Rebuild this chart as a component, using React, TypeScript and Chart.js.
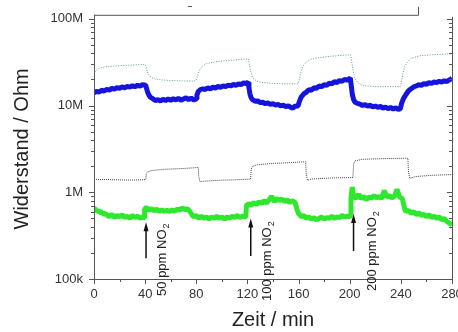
import React, { useEffect, useRef } from "react";
import { Chart, registerables } from "chart.js";

Chart.register(...registerables);

// ---------- data (resistance in MOhm, time in min) ----------
const tealTime = [0, 1, 3, 6, 10, 20, 30, 40, 40.8, 41.5, 43, 45, 48, 52, 60, 70, 79.6, 80.4, 81.5, 83, 85, 88, 95, 105, 115, 120.6, 121.3, 122.5, 124, 127, 131, 140, 150, 159.6, 160.4, 161.5, 163, 165, 168, 175, 185, 195, 200.6, 201.3, 202.5, 204, 207, 211, 220, 230, 239.6, 240.4, 241.5, 243, 245, 248, 255, 265, 280];
const tealMOhm = [23, 25, 26.5, 27.5, 28, 28.8, 29.3, 29.8, 28, 25, 22.5, 21, 20.2, 19.8, 19.4, 19.2, 19.2, 20.5, 23.5, 26.5, 28.5, 30.5, 32, 33, 34, 34.7, 31, 25, 21, 19.2, 18.5, 18, 17.8, 17.8, 19.5, 23, 27.5, 30.5, 33.5, 35.5, 37, 38, 38.5, 34, 26, 20.5, 18, 17, 16.5, 16.5, 16.6, 18.5, 23, 28, 31.5, 35, 37.5, 38.5, 39.6];

const blueTime = [0, 2, 4, 6, 8, 10, 12, 14, 16, 18, 20, 22, 24, 26, 28, 30, 32, 34, 36, 38, 40.4, 41, 42, 43, 44, 46, 48, 50, 52, 54, 56, 58, 60, 62, 64, 66, 68, 70, 72, 74, 76, 78, 79.8, 80.5, 81.5, 83, 85, 87, 89, 91, 93, 95, 97, 99, 101, 103, 105, 107, 109, 111, 113, 115, 117, 119, 120.6, 121.2, 122, 123, 124, 126, 128, 130, 132, 134, 136, 138, 140, 142, 144, 146, 148, 150, 152, 154, 155.5, 157, 159.5, 160.5, 162, 164, 166, 168, 170, 172, 174, 176, 178, 180, 182, 184, 186, 188, 190, 192, 194, 196, 198, 200.5, 201.2, 202, 203, 204, 206, 208, 210, 212, 214, 216, 218, 220, 222, 224, 226, 228, 230, 232, 234, 236, 238, 239.6, 240.5, 242, 244, 246, 248, 250, 252, 254, 256, 258, 260, 262, 264, 266, 268, 270, 272, 274, 276, 278, 280];
const blueMOhm = [14.0, 14.6, 14.3, 15.0, 14.7, 15.4, 15.0, 15.8, 15.4, 16.1, 15.8, 16.4, 16.0, 16.6, 16.3, 16.9, 16.5, 17.1, 16.7, 17.4, 17.2, 16, 14.2, 13.2, 12.5, 12.0, 11.4, 11.7, 11.3, 11.8, 11.4, 11.9, 11.5, 12.0, 11.6, 12.1, 11.5, 11.9, 12.3, 11.7, 12.2, 11.6, 11.9, 13.2, 14.5, 15.2, 15.6, 15.3, 16.0, 15.6, 16.3, 15.9, 16.6, 16.2, 16.9, 16.5, 17.2, 16.8, 17.5, 17.1, 17.8, 17.4, 18.3, 17.9, 18.6, 16, 13.5, 12.2, 11.7, 11.2, 11.3, 10.8, 10.9, 10.5, 10.7, 10.3, 10.5, 10.1, 10.3, 9.9, 10.1, 9.7, 9.9, 9.5, 9.3, 9.8, 9.9, 11, 12.5, 13.6, 14.2, 15.2, 15.0, 16.0, 15.8, 16.8, 16.5, 17.4, 17.1, 18.1, 17.8, 18.8, 18.4, 19.4, 19.0, 20.0, 19.6, 20.8, 17, 13.5, 11.8, 11.0, 10.6, 10.4, 10.0, 10.3, 9.8, 10.1, 9.6, 9.9, 9.5, 9.8, 9.3, 9.6, 9.2, 9.5, 9.1, 9.4, 9.0, 9.2, 10.5, 12, 13.4, 14.8, 15.6, 16.4, 16.8, 17.4, 17.1, 17.9, 17.6, 18.3, 18.0, 18.7, 18.4, 19.0, 18.6, 19.3, 18.9, 19.8, 20.6];

const grayTime = [0, 10, 20, 30, 40.5, 41, 42, 45, 55, 70, 81.5, 82, 83, 86, 100, 110, 122.5, 123, 124, 128, 140, 155, 165.5, 166, 167, 170, 185, 202.5, 203, 204, 210, 230, 245.5, 246, 247, 252, 265, 280];
const grayMOhm = [1.41, 1.40, 1.39, 1.38, 1.40, 1.65, 1.72, 1.78, 1.84, 1.88, 1.93, 1.5, 1.32, 1.34, 1.38, 1.39, 1.42, 1.85, 2.0, 2.08, 2.15, 2.2, 2.25, 1.6, 1.37, 1.42, 1.46, 1.48, 2.1, 2.3, 2.4, 2.45, 2.47, 1.7, 1.45, 1.52, 1.57, 1.6];

const greenTime = [0, 1, 2, 3, 4, 5, 6, 7, 8, 9, 10, 12, 14, 16, 18, 20, 22, 24, 26, 28, 30, 32, 34, 36, 38, 39.4, 39.6, 41, 43, 45, 47, 49, 51, 53, 55, 57, 59, 61, 63, 65, 67, 69, 71, 73, 75, 76, 77, 78, 80, 82, 84, 86, 88, 90, 92, 94, 96, 98, 100, 102, 104, 106, 108, 110, 112, 114, 116, 118, 118.8, 119.2, 121, 123, 125, 127, 129, 131, 133, 135, 137, 139, 141, 143, 145, 147, 149, 151, 153, 155, 157, 158, 159, 160, 161, 162, 164, 166, 168, 170, 172, 174, 176, 178, 180, 182, 184, 186, 188, 190, 192, 194, 196, 198, 200, 200.6, 201, 202, 203, 205, 207, 209, 211, 213, 215, 217, 219, 221, 223, 225, 227, 229, 231, 233, 235, 237, 239, 241, 242, 243, 244, 246, 248, 250, 252, 254, 256, 258, 260, 262, 264, 266, 268, 270, 272, 274, 276, 278, 280];
const greenMOhm = [0.66, 0.64, 0.6, 0.63, 0.58, 0.62, 0.56, 0.6, 0.54, 0.57, 0.55, 0.52, 0.56, 0.51, 0.54, 0.52, 0.55, 0.51, 0.53, 0.5, 0.54, 0.51, 0.53, 0.5, 0.52, 0.51, 0.64, 0.67, 0.62, 0.65, 0.61, 0.64, 0.6, 0.63, 0.6, 0.62, 0.6, 0.63, 0.6, 0.64, 0.62, 0.66, 0.63, 0.65, 0.6, 0.57, 0.54, 0.52, 0.54, 0.5, 0.53, 0.5, 0.52, 0.49, 0.52, 0.5, 0.53, 0.5, 0.52, 0.49, 0.52, 0.5, 0.53, 0.51, 0.54, 0.51, 0.53, 0.52, 0.53, 0.7, 0.74, 0.71, 0.76, 0.72, 0.78, 0.74, 0.8, 0.75, 0.82, 0.9, 0.78, 0.85, 0.8, 0.84, 0.78, 0.82, 0.76, 0.8, 0.77, 0.7, 0.62, 0.57, 0.55, 0.52, 0.54, 0.5, 0.52, 0.49, 0.51, 0.48, 0.5, 0.52, 0.49, 0.51, 0.5, 0.53, 0.5, 0.52, 0.51, 0.54, 0.52, 0.53, 0.52, 0.55, 0.85, 1.15, 0.9, 0.85, 0.95, 0.84, 0.9, 0.82, 0.88, 0.85, 0.92, 0.86, 0.9, 0.84, 1.05, 0.88, 0.92, 0.86, 0.9, 1.08, 0.88, 0.85, 0.75, 0.64, 0.6, 0.62, 0.57, 0.6, 0.55, 0.58, 0.54, 0.56, 0.52, 0.55, 0.51, 0.53, 0.5, 0.52, 0.48, 0.5, 0.46, 0.44, 0.42];

const xTickValues = [0, 40, 80, 120, 160, 200, 240, 280];
const yTickValues = [0.1, 1, 10, 100];
const yTickLabels = ["100k", "1M", "10M", "100M"];

const arrowTimes = [40.7, 122.6, 203];
const arrowBase = [0.174, 0.184, 0.21];
const arrowTip = [0.45, 0.5, 0.56];
const annotationLabels = ["50 ppm NO", "100 ppm NO", "200 ppm NO"];
const labelTimes = [53.2, 136, 218];
const labelStart = [0.0638, 0.0558, 0.0728];

const FONT = "'Liberation Sans', Arial, sans-serif";

const toPts = (t: number[], v: number[]) => t.map((x, i) => ({ x, y: v[i] }));

const framePlugin = {
  id: "frame",
  afterDatasetsDraw(chart: any) {
    const { ctx, chartArea } = chart;
    const xs = chart.scales.x;
    const ys = chart.scales.y;
    const { left, right, top, bottom } = chartArea;
    ctx.save();
    ctx.strokeStyle = "#555";
    ctx.lineWidth = 1;
    ctx.beginPath();
    ctx.moveTo(left + 0.5, top - 4);
    ctx.lineTo(left + 0.5, bottom + 0.5);
    ctx.lineTo(right + 0.5, bottom + 0.5);
    ctx.moveTo(right + 0.5, bottom + 0.5);
    ctx.lineTo(right + 0.5, top - 2);
    ctx.moveTo(left, top - 3.5);
    ctx.lineTo(418.5, top - 3.5);
    ctx.lineTo(418.5, top - 12);
    ctx.moveTo(188, 6.5);
    ctx.lineTo(192, 6.5);
    for (let v = 0; v <= 280; v += 20) {
      const px = Math.round(xs.getPixelForValue(v)) + 0.5;
      const len = v % 40 === 0 ? 5 : 3;
      ctx.moveTo(px, bottom);
      ctx.lineTo(px, bottom + len);
    }
    for (let d = 0.1; d < 100; d *= 10) {
      for (let m = 1; m <= 10; m++) {
        const val = d * m;
        const py = Math.round(ys.getPixelForValue(val)) + 0.5;
        const len = m === 1 || m === 10 ? 5 : 3;
        ctx.moveTo(left, py);
        ctx.lineTo(left - len, py);
        ctx.moveTo(right, py);
        ctx.lineTo(right - len, py);
      }
    }
    ctx.stroke();

    ctx.strokeStyle = "#111";
    ctx.fillStyle = "#111";
    ctx.lineWidth = 1.5;
    arrowTimes.forEach((t, i) => {
      const px = xs.getPixelForValue(t);
      const yb = ys.getPixelForValue(arrowBase[i]);
      const yt = ys.getPixelForValue(arrowTip[i]);
      ctx.beginPath();
      ctx.moveTo(px, yb);
      ctx.lineTo(px, yt + 6);
      ctx.stroke();
      ctx.beginPath();
      ctx.moveTo(px, yt);
      ctx.lineTo(px - 2.5, yt + 9);
      ctx.lineTo(px + 2.5, yt + 9);
      ctx.closePath();
      ctx.fill();

      const lx = xs.getPixelForValue(labelTimes[i]);
      const ly = ys.getPixelForValue(labelStart[i]);
      ctx.save();
      ctx.translate(lx, ly);
      ctx.rotate(-Math.PI / 2);
      ctx.font = `13px ${FONT}`;
      ctx.textAlign = "left";
      ctx.textBaseline = "middle";
      ctx.fillStyle = "#222";
      ctx.fillText(annotationLabels[i], 0, 0);
      const w = ctx.measureText(annotationLabels[i]).width;
      ctx.font = `9px ${FONT}`;
      ctx.fillText("2", w + 1, 4);
      ctx.restore();
    });
    ctx.restore();
  },
};

export default function App() {
  const ref = useRef<HTMLCanvasElement | null>(null);

  useEffect(() => {
    document.body.style.margin = "0";
    if (!ref.current) return;
    const chart = new Chart(ref.current, {
      type: "line",
      data: {
        datasets: [
          {
            data: toPts(tealTime, tealMOhm),
            borderColor: "#5a9e90",
            borderWidth: 1,
            borderDash: [1, 1.5],
            pointRadius: 0,
            tension: 0,
          },
          {
            data: toPts(blueTime, blueMOhm),
            borderColor: "#1414dc",
            borderWidth: 5,
            borderJoinStyle: "bevel",
            pointRadius: 0,
            tension: 0,
          },
          {
            data: toPts(grayTime, grayMOhm),
            borderColor: "#444",
            borderWidth: 1,
            borderDash: [1, 1],
            pointRadius: 0,
            tension: 0,
          },
          {
            data: toPts(greenTime, greenMOhm),
            borderColor: "#2ee82e",
            borderWidth: 5,
            borderJoinStyle: "bevel",
            pointRadius: 0,
            tension: 0,
          },
        ],
      },
      options: {
        animation: false,
        responsive: false,
        maintainAspectRatio: false,
        layout: { padding: { top: 17, right: 28, left: 0, bottom: 0 } },
        plugins: { legend: { display: false }, tooltip: { enabled: false } },
        scales: {
          x: {
            type: "linear",
            min: 0,
            max: 280,
            afterBuildTicks: (s: any) => {
              s.ticks = xTickValues.map((v) => ({ value: v }));
            },
            afterFit: (s: any) => {
              s.height = 53;
            },
            grid: { display: false, drawTicks: false },
            border: { display: false },
            ticks: {
              padding: 8,
              color: "#333",
              font: { family: FONT, size: 13 },
              maxRotation: 0,
              autoSkip: false,
            },
            title: {
              display: true,
              text: "Zeit / min",
              color: "#222",
              font: { family: FONT, size: 20 },
              padding: { top: 0, bottom: 0 },
            },
          },
          y: {
            type: "logarithmic",
            min: 0.1,
            max: 100,
            afterBuildTicks: (s: any) => {
              s.ticks = yTickValues.map((v) => ({ value: v }));
            },
            afterFit: (s: any) => {
              s.width = 94;
            },
            grid: { display: false, drawTicks: false },
            border: { display: false },
            ticks: {
              padding: 11,
              color: "#333",
              font: { family: FONT, size: 13 },
              autoSkip: false,
              callback: (v: any) => {
                const i = yTickValues.findIndex((t) => Math.abs(t - Number(v)) < 1e-9);
                return i >= 0 ? yTickLabels[i] : "";
              },
            },
            title: {
              display: true,
              text: "Widerstand / Ohm",
              color: "#222",
              font: { family: FONT, size: 20 },
              padding: { top: 10, bottom: 0 },
            },
          },
        },
      },
      plugins: [framePlugin],
    });
    return () => chart.destroy();
  }, []);

  return (
    <div style={{ width: 458, height: 332, overflow: "hidden", background: "#fff" }}>
      <canvas ref={ref} width={480} height={332} style={{ width: 480, height: 332, display: "block" }} />
    </div>
  );
}
